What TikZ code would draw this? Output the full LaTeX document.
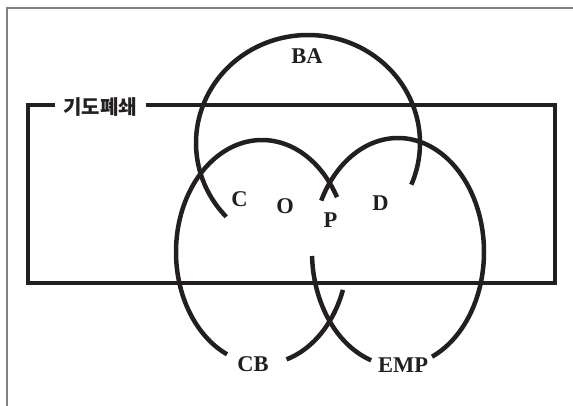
\documentclass[tikz,border=0pt]{standalone}
\usepackage{fontspec}
\setmainfont{Liberation Serif}
\newfontfamily\krfont{Noto Sans CJK KR}
\definecolor{ink}{RGB}{35,31,32}
\begin{document}
\begin{tikzpicture}[x=1pt,y=-1pt,
  lbl/.style={font=\fontsize{22.5}{24}\selectfont\bfseries, text=ink, inner sep=0pt},
  curve/.style={draw=ink, line width=4.5pt},
  frame/.style={draw=ink, line width=3.2pt},
]
\useasboundingbox (0,0) rectangle (573,406);
\draw[gray, line width=1.3pt] (7,406) -- (7,8) -- (573,8);
% title and frame
\coordinate (tl) at (28,105);
\coordinate (tr) at (555,105);
\coordinate (br) at (555,283);
\coordinate (bl) at (28,283);
\node[font=\krfont\bfseries\fontsize{20}{22}\selectfont, text=ink, inner xsep=8.5pt, inner ysep=0pt] (title) at (100,107.5) {기도폐쇄};
\draw[frame] (title.east |- tl) -- (tr) -- (br) -- (bl) -- (tl) -- (title.west |- tl);
% BA
\draw[curve] plot[domain=136.9:382.7, samples=120, smooth] ({308+112*cos(\x)},{143+108*sin(\x)});
% CB
\draw[curve] plot[domain=114:330.7, samples=120, smooth] ({262+86*cos(\x)},{252+112*sin(\x)});
\draw[curve] plot[domain=19.8:73.4, samples=40, smooth] ({262+86*cos(\x)},{252+112*sin(\x)});
% EMP
\draw[curve] plot[domain=206.8:426.7, samples=120, smooth] ({398+86*cos(\x)},{252+114*sin(\x)});
\draw[curve] plot[domain=108.2:178, samples=40, smooth] ({398+86*cos(\x)},{252+114*sin(\x)});
% labels
\node[lbl] (ba) at (307,56.5) {BA};
\node[lbl] (c) at (239.5,199.5) {C};
\node[lbl] (o) at (285,206) {O};
\node[lbl] (p) at (330.5,220.5) {P};
\node[lbl] (d) at (380.5,203) {D};
\node[lbl] (cb) at (253,364.5) {CB};
\node[lbl] (emp) at (403,365.5) {EMP};
\end{tikzpicture}
\end{document}
